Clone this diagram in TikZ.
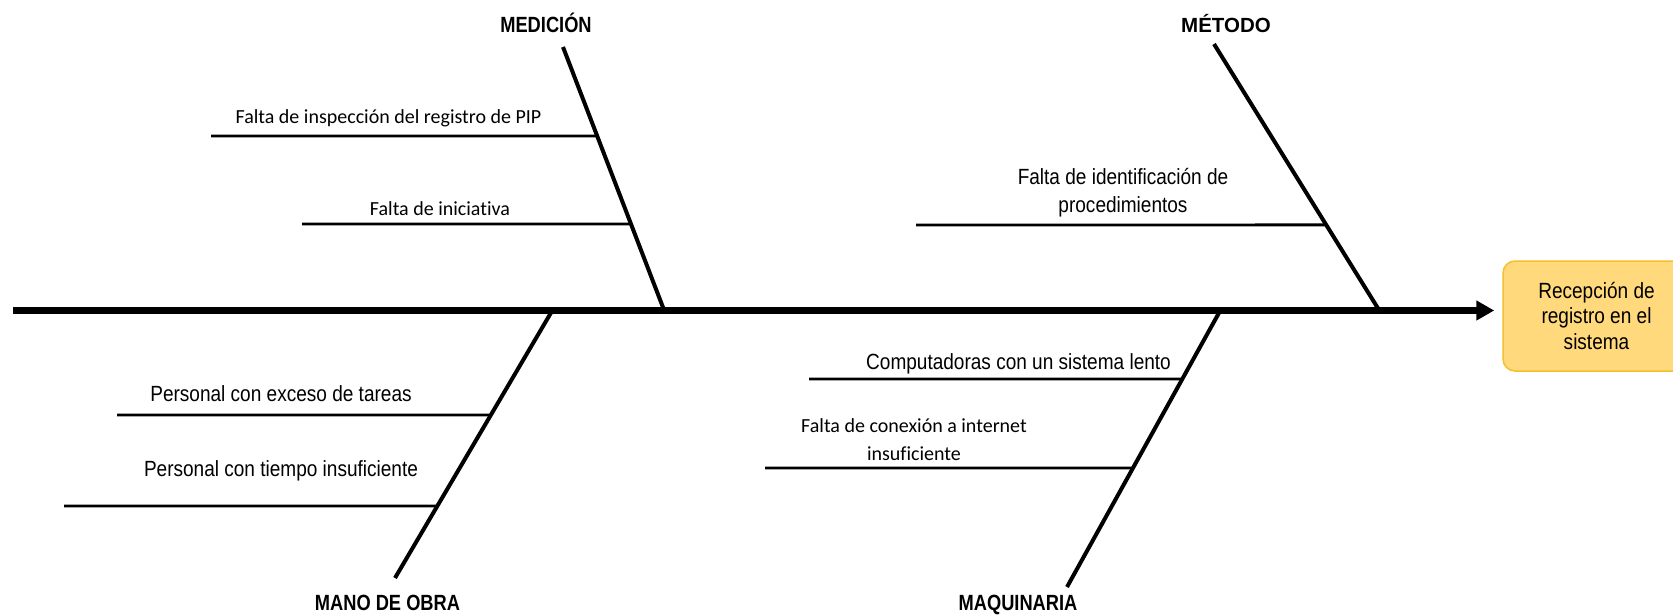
\documentclass[tikz,border=0pt]{standalone}
\usepackage{fontspec}
\setmainfont{Liberation Sans}
\newfontfamily\narrowfont[FakeStretch=0.865,Ligatures=NoCommon]{Liberation Sans}
\newfontfamily\labfont[FakeStretch=0.83]{Liberation Sans}
\newfontfamily\carlfont[Ligatures=NoCommon]{Carlito}
\usetikzlibrary{calc,arrows.meta}
\definecolor{boxfill}{RGB}{255,217,124}
\definecolor{boxborder}{RGB}{245,192,45}
\begin{document}
\begin{tikzpicture}[x=1pt,y=-1pt,
  spine/.style={line width=6.5pt,-{Triangle[length=18pt,width=19pt]}},
  bone/.style={line width=4pt},
  cause/.style={line width=2.8pt},
  lab/.style={font=\labfont\bfseries\fontsize{22}{26}\selectfont,inner sep=0pt},
  labw/.style={font=\bfseries\fontsize{20.5}{24}\selectfont,inner sep=0pt},
  narrow/.style={font=\narrowfont\fontsize{22}{28}\selectfont,inner sep=0pt},
  carl/.style={font=\carlfont\fontsize{20}{28}\selectfont,inner sep=0pt},
  effect/.style={draw=boxborder,fill=boxfill,line width=1.5pt,rounded corners=12pt,
    minimum width=187pt,minimum height=110pt,inner sep=0pt,align=center,
    font=\narrowfont\fontsize{22}{25.5}\selectfont}]
\useasboundingbox (0,0) rectangle (1673,615);

% effect box
\node[effect] (effect) at (1596.5,316) {Recepción de\\registro en el\\sistema};

% spine
\coordinate (spineS) at (13,310.5);
\draw[spine,shorten >=8pt] (spineS) -- (spineS -| effect.west);

% category labels
\node[lab,anchor=base] (med) at (546,33) {MEDICIÓN};
\node[labw,anchor=base] (met) at (1226,33) {MÉTODO};
\node[lab,anchor=base] (mo) at (387.5,610) {MANO DE OBRA};
\node[lab,anchor=base] (maq) at (1018,610) {MAQUINARIA};

% bones
\coordinate (medtop) at (563,47);   \coordinate (medbot) at (664,310);
\coordinate (mettop) at (1214,44);  \coordinate (metbot) at (1379,310);
\coordinate (motop) at (552,311);   \coordinate (mobot) at (395,578);
\coordinate (maqtop) at (1220,311); \coordinate (maqbot) at (1067,587);
\draw[bone] (medtop) -- (medbot);
\draw[bone] (mettop) -- (metbot);
\draw[bone] (motop) -- (mobot);
\draw[bone] (maqtop) -- (maqbot);

% cause lines
\coordinate (c1) at (211,136);
\coordinate (c2) at (302,224);
\coordinate (c3) at (916,225);
\coordinate (c4) at (117,415);
\coordinate (c5) at (64,506);
\coordinate (c6) at (809,379);
\coordinate (c7) at (765,468);
\draw[cause] (c1) -- ($(medtop)!0.3384!(medbot)$);
\draw[cause] (c2) -- ($(medtop)!0.673!(medbot)$);
\draw[cause] (c3) -- ($(mettop)!0.680!(metbot)$);
\draw[cause] (c4) -- ($(motop)!0.3895!(mobot)$);
\draw[cause] (c5) -- ($(motop)!0.730!(mobot)$);
\draw[cause] (c6) -- ($(maqtop)!0.2464!(maqbot)$);
\draw[cause] (c7) -- ($(maqtop)!0.5688!(maqbot)$);

% cause texts
\node[carl,anchor=base] (t1) at (388.5,124) {Falta de inspección del registro de PIP};
\node[carl,anchor=base] (t2) at (440,215) {Falta de iniciativa};
\node[narrow,anchor=base,align=center] (t3) at (1123,212) {Falta de identificación de\\procedimientos};
\node[narrow,anchor=base] (t4) at (281,401) {Personal con exceso de tareas};
\node[narrow,anchor=base] (t5) at (281,476) {Personal con tiempo insuficiente};
\node[narrow,anchor=base] (t6) at (1018.5,369) {Computadoras con un sistema lento};
\node[carl,anchor=base,align=center] (t7) at (914,460) {Falta de conexión a internet\\insuficiente};
\end{tikzpicture}
\end{document}
